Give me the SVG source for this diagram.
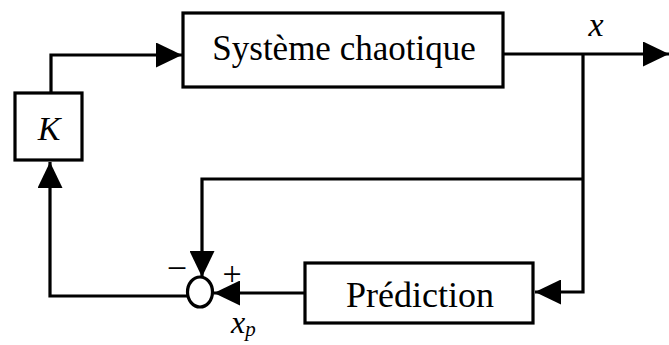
<svg xmlns="http://www.w3.org/2000/svg" width="669" height="345" viewBox="0 0 669 345">
<style>
.box{fill:#fff;stroke:#000;stroke-width:3.2}
.ln{fill:none;stroke:#000;stroke-width:3.2}
.t{font-family:"Liberation Serif",serif;fill:#000}
.i{font-family:"Liberation Serif",serif;font-style:italic;fill:#000}
</style>
<defs>
<marker id="ah" viewBox="0 0 26 25" refX="26" refY="12.5" markerWidth="26" markerHeight="25" markerUnits="userSpaceOnUse" orient="auto">
<path d="M0,0 L26,12.5 L0,25 Z" fill="#000"/>
</marker>
</defs>
<rect width="669" height="345" fill="#fff"/>
<g id="connectors">
<path class="ln" d="M51,93 V55 H182" marker-end="url(#ah)"/>
<path class="ln" d="M503,54 H669" marker-end="url(#ah)"/>
<path class="ln" d="M583,54 V292 H535" marker-end="url(#ah)"/>
<path class="ln" d="M583,179 H202 V277" marker-end="url(#ah)"/>
<path class="ln" d="M305,293 H214" marker-end="url(#ah)"/>
<path class="ln" d="M188,296 H50 V162" marker-end="url(#ah)"/>
</g>
<g id="systeme">
<rect class="box" x="183" y="13" width="320" height="74"/>
<text class="t" x="344" y="60" font-size="35" text-anchor="middle">Système chaotique</text>
</g>
<g id="K">
<rect class="box" x="15" y="93" width="67" height="67"/>
<text class="i" x="49" y="140" font-size="34" text-anchor="middle">K</text>
</g>
<g id="prediction">
<rect class="box" x="305" y="263" width="228" height="60"/>
<text class="t" x="420" y="307" font-size="36" text-anchor="middle">Prédiction</text>
</g>
<g id="sum">
<ellipse class="box" cx="200" cy="292" rx="12.5" ry="15"/>
<text class="t" x="177" y="280" font-size="36" text-anchor="middle">−</text>
<text class="t" x="232" y="285" font-size="34" text-anchor="middle">+</text>
</g>
<g id="labels">
<text class="i" x="596" y="36" font-size="34" text-anchor="middle">x</text>
<text class="i" x="231" y="333" font-size="32">x<tspan font-size="21" dy="3">p</tspan></text>
</g>
</svg>
